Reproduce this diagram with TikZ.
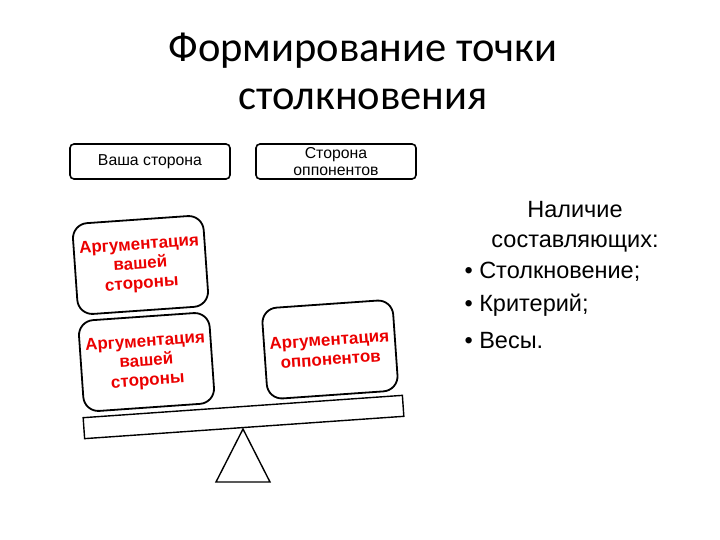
\documentclass[tikz,border=0pt]{standalone}
\usepackage{fontspec}
\setmainfont{Carlito}
\newfontfamily\arialf{Liberation Sans}
\begin{document}
\begin{tikzpicture}[x=1pt,y=-1pt,
  sidebox/.style={draw, line width=1.6pt, rounded corners=4pt, minimum width=160pt, minimum height=35pt, align=center, font=\arialf\fontsize{15.8}{17.5}\selectfont, inner sep=1pt},
  argbox/.style={draw, line width=1.8pt, rounded corners=15pt, minimum width=131pt, minimum height=91pt, align=center, text=red!92!black, font=\arialf\bfseries\fontsize{17}{19.5}\selectfont, rotate=4, inner sep=2pt},
  beam/.style={draw, line width=1.4pt, minimum width=320pt, minimum height=21pt, rotate=4, inner sep=0pt},
  fulcrumline/.style={draw, line width=1.4pt, line join=miter},
  txt/.style={font=\arialf\fontsize{23.5}{30}\selectfont}]
\useasboundingbox (0,0) rectangle (720,540);
\node[font=\fontsize{42.5}{48}\selectfont, align=center] (title) at (363,71) {Формирование точки\\столкновения};
\node[sidebox] (ours) at (150,161.5) {Ваша сторона};
\node[sidebox] (theirs) at (336,161.5) {Сторона\\оппонентов};
\node[argbox] (a1) at (140.5,265) {Аргументация\\вашей\\стороны};
\node[argbox] (a2) at (146.5,362) {Аргументация\\вашей\\стороны};
\node[argbox] (a3) at (330,349.5) {Аргументация\\оппонентов};
\node[beam] (bm) at (243.5,417) {};
\coordinate (apex) at (243,429);
\coordinate (bl) at (216,482);
\coordinate (br) at (270,482);
\path[fulcrumline] (apex) -- (bl) -- (br) -- cycle;
\node[txt, align=center] (head) at (575,227) {Наличие\\составляющих:};
\node[txt, anchor=west] (b1) at (461,272) {• Столкновение;};
\node[txt, anchor=west] (b2) at (461,305) {• Критерий;};
\node[txt, anchor=west] (b3) at (461,341) {• Весы.};
\end{tikzpicture}
\end{document}
